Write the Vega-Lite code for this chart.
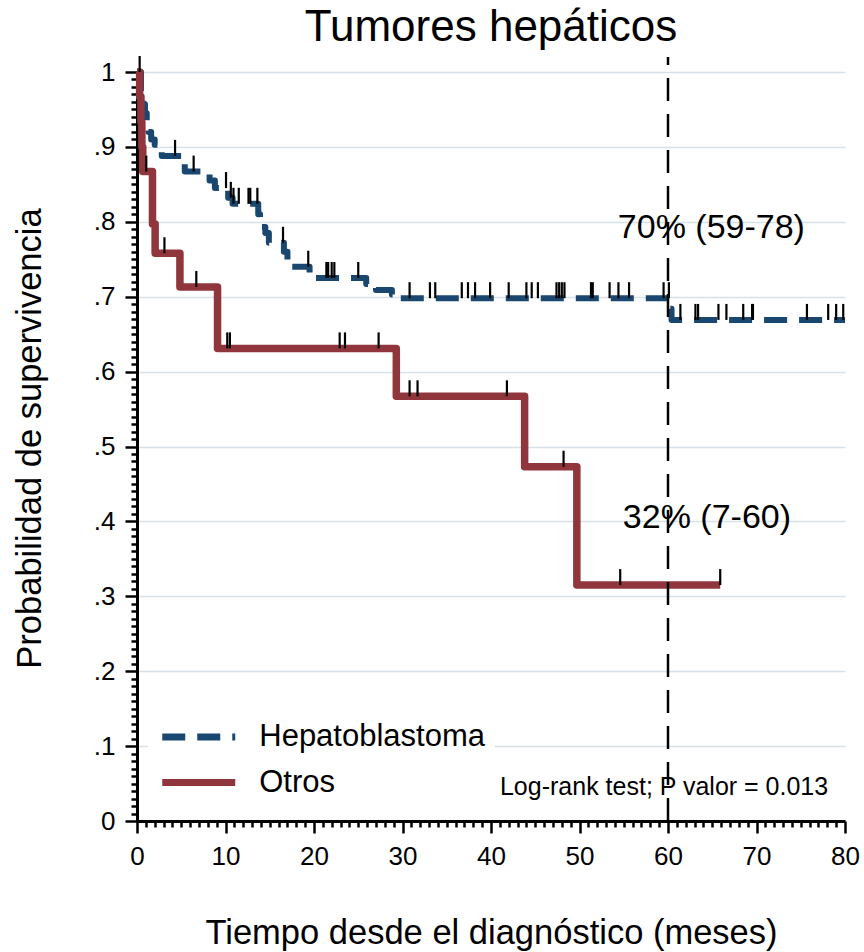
{
  "$schema": "https://vega.github.io/schema/vega-lite/v6.json",
  "width": 708,
  "height": 749,
  "autosize": {"type": "none"},
  "padding": {"left": 137, "top": 72, "right": 19, "bottom": 131},
  "background": "white",
  "title": {"text": "Tumores hepáticos", "fontSize": 44, "font": "Liberation Sans", "fontWeight": "normal", "anchor": "middle", "baseline": "alphabetic", "offset": 14, "dy": 43, "color": "black"},
  "config": {
    "view": {"stroke": null},
    "font": "Liberation Sans",
    "legend": {
      "orient": "none", "legendX": 11, "legendY": 633, "fillColor": "white", "padding": 10,
      "symbolType": "M-2,0H2", "symbolSize": 1332, "symbolStrokeWidth": 7, "symbolOffset": 18.75,
      "labelFontSize": 31, "labelFont": "Liberation Sans", "labelColor": "black", "labelOffset": 38.5, "labelLimit": 600,
      "rowPadding": 8.5, "zindex": 1, "title": null
    }
  },
  "datasets": {
    "curvas": [
      {"grupo": "Hepatoblastoma", "tiempo": 0, "supervivencia": 1.0},
      {"grupo": "Hepatoblastoma", "tiempo": 0.45, "supervivencia": 0.973},
      {"grupo": "Hepatoblastoma", "tiempo": 0.7, "supervivencia": 0.957},
      {"grupo": "Hepatoblastoma", "tiempo": 0.9, "supervivencia": 0.945},
      {"grupo": "Hepatoblastoma", "tiempo": 1.1, "supervivencia": 0.93},
      {"grupo": "Hepatoblastoma", "tiempo": 1.3, "supervivencia": 0.92},
      {"grupo": "Hepatoblastoma", "tiempo": 1.6, "supervivencia": 0.91},
      {"grupo": "Hepatoblastoma", "tiempo": 2.0, "supervivencia": 0.903},
      {"grupo": "Hepatoblastoma", "tiempo": 2.8, "supervivencia": 0.888},
      {"grupo": "Hepatoblastoma", "tiempo": 5.0, "supervivencia": 0.878},
      {"grupo": "Hepatoblastoma", "tiempo": 5.4, "supervivencia": 0.867},
      {"grupo": "Hepatoblastoma", "tiempo": 8.2, "supervivencia": 0.855},
      {"grupo": "Hepatoblastoma", "tiempo": 8.8, "supervivencia": 0.845},
      {"grupo": "Hepatoblastoma", "tiempo": 10.3, "supervivencia": 0.832},
      {"grupo": "Hepatoblastoma", "tiempo": 10.8, "supervivencia": 0.824},
      {"grupo": "Hepatoblastoma", "tiempo": 13.7, "supervivencia": 0.81},
      {"grupo": "Hepatoblastoma", "tiempo": 13.9, "supervivencia": 0.8},
      {"grupo": "Hepatoblastoma", "tiempo": 14.1, "supervivencia": 0.793},
      {"grupo": "Hepatoblastoma", "tiempo": 14.5, "supervivencia": 0.785},
      {"grupo": "Hepatoblastoma", "tiempo": 14.9, "supervivencia": 0.772},
      {"grupo": "Hepatoblastoma", "tiempo": 16.6, "supervivencia": 0.76},
      {"grupo": "Hepatoblastoma", "tiempo": 17.0, "supervivencia": 0.748},
      {"grupo": "Hepatoblastoma", "tiempo": 17.3, "supervivencia": 0.74},
      {"grupo": "Hepatoblastoma", "tiempo": 19.5, "supervivencia": 0.731},
      {"grupo": "Hepatoblastoma", "tiempo": 20.0, "supervivencia": 0.725},
      {"grupo": "Hepatoblastoma", "tiempo": 25.9, "supervivencia": 0.717},
      {"grupo": "Hepatoblastoma", "tiempo": 27.0, "supervivencia": 0.709},
      {"grupo": "Hepatoblastoma", "tiempo": 28.8, "supervivencia": 0.703},
      {"grupo": "Hepatoblastoma", "tiempo": 29.3, "supervivencia": 0.698},
      {"grupo": "Hepatoblastoma", "tiempo": 60.2, "supervivencia": 0.684},
      {"grupo": "Hepatoblastoma", "tiempo": 60.4, "supervivencia": 0.669},
      {"grupo": "Hepatoblastoma", "tiempo": 80, "supervivencia": 0.669},
      {"grupo": "Otros", "tiempo": 0, "supervivencia": 1.0},
      {"grupo": "Otros", "tiempo": 0.3, "supervivencia": 0.967},
      {"grupo": "Otros", "tiempo": 0.45, "supervivencia": 0.933},
      {"grupo": "Otros", "tiempo": 0.55, "supervivencia": 0.9},
      {"grupo": "Otros", "tiempo": 0.65, "supervivencia": 0.867},
      {"grupo": "Otros", "tiempo": 1.75, "supervivencia": 0.797},
      {"grupo": "Otros", "tiempo": 2.05, "supervivencia": 0.758},
      {"grupo": "Otros", "tiempo": 4.85, "supervivencia": 0.713},
      {"grupo": "Otros", "tiempo": 9.1, "supervivencia": 0.631},
      {"grupo": "Otros", "tiempo": 29.3, "supervivencia": 0.567},
      {"grupo": "Otros", "tiempo": 43.8, "supervivencia": 0.473},
      {"grupo": "Otros", "tiempo": 49.7, "supervivencia": 0.315},
      {"grupo": "Otros", "tiempo": 65.9, "supervivencia": 0.315}
    ],
    "censuras": [
      {"grupo": "Hepatoblastoma", "tiempo": 0.3, "supervivencia": 1.0},
      {"grupo": "Hepatoblastoma", "tiempo": 4.3, "supervivencia": 0.888},
      {"grupo": "Hepatoblastoma", "tiempo": 6.4, "supervivencia": 0.867},
      {"grupo": "Hepatoblastoma", "tiempo": 10.06, "supervivencia": 0.845},
      {"grupo": "Hepatoblastoma", "tiempo": 10.6, "supervivencia": 0.832},
      {"grupo": "Hepatoblastoma", "tiempo": 10.9, "supervivencia": 0.824},
      {"grupo": "Hepatoblastoma", "tiempo": 11.5, "supervivencia": 0.824},
      {"grupo": "Hepatoblastoma", "tiempo": 12.6, "supervivencia": 0.824},
      {"grupo": "Hepatoblastoma", "tiempo": 12.8, "supervivencia": 0.824},
      {"grupo": "Hepatoblastoma", "tiempo": 13.6, "supervivencia": 0.824},
      {"grupo": "Hepatoblastoma", "tiempo": 16.5, "supervivencia": 0.772},
      {"grupo": "Hepatoblastoma", "tiempo": 19.35, "supervivencia": 0.74},
      {"grupo": "Hepatoblastoma", "tiempo": 21.4, "supervivencia": 0.725},
      {"grupo": "Hepatoblastoma", "tiempo": 21.6, "supervivencia": 0.725},
      {"grupo": "Hepatoblastoma", "tiempo": 22.0, "supervivencia": 0.725},
      {"grupo": "Hepatoblastoma", "tiempo": 22.3, "supervivencia": 0.725},
      {"grupo": "Hepatoblastoma", "tiempo": 25.0, "supervivencia": 0.725},
      {"grupo": "Hepatoblastoma", "tiempo": 30.8, "supervivencia": 0.698},
      {"grupo": "Hepatoblastoma", "tiempo": 33.1, "supervivencia": 0.698},
      {"grupo": "Hepatoblastoma", "tiempo": 33.7, "supervivencia": 0.698},
      {"grupo": "Hepatoblastoma", "tiempo": 36.7, "supervivencia": 0.698},
      {"grupo": "Hepatoblastoma", "tiempo": 37.4, "supervivencia": 0.698},
      {"grupo": "Hepatoblastoma", "tiempo": 38.2, "supervivencia": 0.698},
      {"grupo": "Hepatoblastoma", "tiempo": 39.9, "supervivencia": 0.698},
      {"grupo": "Hepatoblastoma", "tiempo": 42.0, "supervivencia": 0.698},
      {"grupo": "Hepatoblastoma", "tiempo": 44.0, "supervivencia": 0.698},
      {"grupo": "Hepatoblastoma", "tiempo": 44.6, "supervivencia": 0.698},
      {"grupo": "Hepatoblastoma", "tiempo": 45.3, "supervivencia": 0.698},
      {"grupo": "Hepatoblastoma", "tiempo": 47.4, "supervivencia": 0.698},
      {"grupo": "Hepatoblastoma", "tiempo": 47.7, "supervivencia": 0.698},
      {"grupo": "Hepatoblastoma", "tiempo": 48.0, "supervivencia": 0.698},
      {"grupo": "Hepatoblastoma", "tiempo": 48.3, "supervivencia": 0.698},
      {"grupo": "Hepatoblastoma", "tiempo": 51.3, "supervivencia": 0.698},
      {"grupo": "Hepatoblastoma", "tiempo": 51.5, "supervivencia": 0.698},
      {"grupo": "Hepatoblastoma", "tiempo": 53.4, "supervivencia": 0.698},
      {"grupo": "Hepatoblastoma", "tiempo": 54.4, "supervivencia": 0.698},
      {"grupo": "Hepatoblastoma", "tiempo": 55.6, "supervivencia": 0.698},
      {"grupo": "Hepatoblastoma", "tiempo": 59.5, "supervivencia": 0.698},
      {"grupo": "Hepatoblastoma", "tiempo": 60.1, "supervivencia": 0.698},
      {"grupo": "Hepatoblastoma", "tiempo": 61.4, "supervivencia": 0.669},
      {"grupo": "Hepatoblastoma", "tiempo": 63.1, "supervivencia": 0.669},
      {"grupo": "Hepatoblastoma", "tiempo": 63.4, "supervivencia": 0.669},
      {"grupo": "Hepatoblastoma", "tiempo": 65.7, "supervivencia": 0.669},
      {"grupo": "Hepatoblastoma", "tiempo": 66.6, "supervivencia": 0.669},
      {"grupo": "Hepatoblastoma", "tiempo": 68.5, "supervivencia": 0.669},
      {"grupo": "Hepatoblastoma", "tiempo": 69.5, "supervivencia": 0.669},
      {"grupo": "Hepatoblastoma", "tiempo": 69.6, "supervivencia": 0.669},
      {"grupo": "Hepatoblastoma", "tiempo": 75.7, "supervivencia": 0.669},
      {"grupo": "Hepatoblastoma", "tiempo": 78.1, "supervivencia": 0.669},
      {"grupo": "Hepatoblastoma", "tiempo": 79.0, "supervivencia": 0.669},
      {"grupo": "Hepatoblastoma", "tiempo": 79.8, "supervivencia": 0.669},
      {"grupo": "Otros", "tiempo": 1.05, "supervivencia": 0.867},
      {"grupo": "Otros", "tiempo": 3.1, "supervivencia": 0.758},
      {"grupo": "Otros", "tiempo": 6.7, "supervivencia": 0.713},
      {"grupo": "Otros", "tiempo": 10.2, "supervivencia": 0.631},
      {"grupo": "Otros", "tiempo": 10.5, "supervivencia": 0.631},
      {"grupo": "Otros", "tiempo": 22.9, "supervivencia": 0.631},
      {"grupo": "Otros", "tiempo": 23.5, "supervivencia": 0.631},
      {"grupo": "Otros", "tiempo": 27.3, "supervivencia": 0.631},
      {"grupo": "Otros", "tiempo": 30.8, "supervivencia": 0.567},
      {"grupo": "Otros", "tiempo": 31.7, "supervivencia": 0.567},
      {"grupo": "Otros", "tiempo": 41.8, "supervivencia": 0.567},
      {"grupo": "Otros", "tiempo": 48.2, "supervivencia": 0.473},
      {"grupo": "Otros", "tiempo": 54.6, "supervivencia": 0.315},
      {"grupo": "Otros", "tiempo": 65.9, "supervivencia": 0.315}
    ],
    "referencia": [
      {"tiempo": 60, "supervivencia": 0, "supervivencia2": 1.02}
    ],
    "notas": [
      {"tiempo": 64.9, "supervivencia": 0.792, "texto": "70% (59-78)"},
      {"tiempo": 64.4, "supervivencia": 0.405, "texto": "32% (7-60)"}
    ],
    "prueba": [
      {"tiempo": 78.1, "supervivencia": 0.045, "texto": "Log-rank test; P valor = 0.013"}
    ]
  },
  "layer": [
    {
      "data": {"name": "curvas"},
      "transform": [{"filter": "datum.grupo == 'Hepatoblastoma'"}],
      "mark": {"type": "line", "interpolate": "step-after", "strokeWidth": 6, "strokeJoin": "round", "strokeCap": "butt"},
      "encoding": {
        "x": {
          "field": "tiempo", "type": "quantitative",
          "scale": {"domain": [0, 80], "nice": false, "zero": false},
          "axis": {
            "title": "Tiempo desde el diagnóstico (meses)",
            "values": [0,1,2,3,4,5,6,7,8,9,10,11,12,13,14,15,16,17,18,19,20,21,22,23,24,25,26,27,28,29,30,31,32,33,34,35,36,37,38,39,40,41,42,43,44,45,46,47,48,49,50,51,52,53,54,55,56,57,58,59,60,61,62,63,64,65,66,67,68,69,70,71,72,73,74,75,76,77,78,79,80],
            "tickCount": 200,
            "labelExpr": "datum.value % 10 == 0 ? '' + datum.value : ''",
            "tickSize": {"condition": {"test": "datum.value % 10 == 0", "value": 12}, "value": 6},
            "grid": false, "labelFlush": false, "labelOverlap": false,
            "labelFontSize": 26, "labelFont": "Liberation Sans", "labelColor": "black", "labelPadding": 10,
            "domainColor": "black", "domainWidth": 3, "tickColor": "black", "tickWidth": 2.5,
            "titleFontSize": 34.5, "titleFont": "Liberation Sans", "titleFontWeight": "normal", "titleColor": "black",
            "titleY": 122, "titleX": 354, "titleBaseline": "alphabetic", "titleAlign": "center"
          }
        },
        "y": {
          "field": "supervivencia", "type": "quantitative",
          "scale": {"domain": [0, 1], "nice": false},
          "axis": {
            "title": "Probabilidad de supervivencia",
            "values": [0,0.01,0.02,0.03,0.04,0.05,0.06,0.07,0.08,0.09,0.1,0.11,0.12,0.13,0.14,0.15,0.16,0.17,0.18,0.19,0.2,0.21,0.22,0.23,0.24,0.25,0.26,0.27,0.28,0.29,0.3,0.31,0.32,0.33,0.34,0.35,0.36,0.37,0.38,0.39,0.4,0.41,0.42,0.43,0.44,0.45,0.46,0.47,0.48,0.49,0.5,0.51,0.52,0.53,0.54,0.55,0.56,0.57,0.58,0.59,0.6,0.61,0.62,0.63,0.64,0.65,0.66,0.67,0.68,0.69,0.7,0.71,0.72,0.73,0.74,0.75,0.76,0.77,0.78,0.79,0.8,0.81,0.82,0.83,0.84,0.85,0.86,0.87,0.88,0.89,0.9,0.91,0.92,0.93,0.94,0.95,0.96,0.97,0.98,0.99,1],
            "tickCount": 300,
            "labelExpr": "round(datum.value*100) % 10 == 0 ? (datum.value == 0 ? '0' : datum.value > 0.999 ? '1' : '.' + round(datum.value*10)) : ''",
            "tickSize": {"condition": {"test": "round(datum.value*100) % 10 == 0", "value": 12}, "value": 6},
            "grid": true, "gridColor": "#d6e1e8", "gridWidth": 1.5,
            "gridOpacity": {"condition": {"test": "round(datum.value*100) % 10 == 0", "value": 1}, "value": 0},
            "labelOverlap": false, "labelFlush": false,
            "labelFontSize": 26, "labelFont": "Liberation Sans", "labelColor": "black", "labelPadding": 10,
            "domainColor": "black", "domainWidth": 3, "tickColor": "black", "tickWidth": 2.5,
            "titleFontSize": 34.5, "titleFont": "Liberation Sans", "titleFontWeight": "normal", "titleColor": "black",
            "titleX": -97, "titleY": 366, "titleBaseline": "alphabetic", "titleAlign": "center", "titleAngle": 270
          }
        },
        "color": {"field": "grupo", "type": "nominal", "scale": {"domain": ["Hepatoblastoma", "Otros"], "range": ["#1a476f", "#90353b"]}, "title": null,
          "legend": {"labelExpr": "datum.label == 'Hepatoblastoma' ? datum.label + '\u00a0\u00a0' : datum.label", "titleOrient": "right", "title": "\u00a0\u00a0"}},
        "strokeDash": {"field": "grupo", "type": "nominal", "scale": {"domain": ["Hepatoblastoma", "Otros"], "range": [[23, 12], [1, 0]]}, "title": null,
          "legend": {"labelExpr": "datum.label == 'Hepatoblastoma' ? datum.label + '\u00a0\u00a0' : datum.label", "titleOrient": "right", "title": "\u00a0\u00a0"}}
      }
    },
    {
      "data": {"name": "curvas"},
      "transform": [{"filter": "datum.grupo == 'Otros'"}],
      "mark": {"type": "line", "interpolate": "step-after", "strokeWidth": 7.5, "strokeJoin": "round", "strokeCap": "butt"},
      "encoding": {
        "x": {"field": "tiempo", "type": "quantitative"},
        "y": {"field": "supervivencia", "type": "quantitative"},
        "color": {"field": "grupo", "type": "nominal", "title": null},
        "strokeDash": {"field": "grupo", "type": "nominal", "title": null}
      }
    },
    {
      "data": {"name": "censuras"},
      "mark": {"type": "tick", "orient": "vertical", "size": 16, "thickness": 2.2, "yOffset": -8, "color": "black", "opacity": 1},
      "encoding": {
        "x": {"field": "tiempo", "type": "quantitative"},
        "y": {"field": "supervivencia", "type": "quantitative"}
      }
    },
    {
      "data": {"name": "referencia"},
      "mark": {"type": "rule", "color": "black", "strokeWidth": 2.5, "strokeDash": [23, 13]},
      "encoding": {
        "x": {"field": "tiempo", "type": "quantitative"},
        "y": {"field": "supervivencia", "type": "quantitative"},
        "y2": {"field": "supervivencia2"}
      }
    },
    {
      "data": {"name": "notas"},
      "mark": {"type": "text", "fontSize": 34, "font": "Liberation Sans", "color": "black", "align": "center", "baseline": "middle"},
      "encoding": {
        "x": {"field": "tiempo", "type": "quantitative"},
        "y": {"field": "supervivencia", "type": "quantitative"},
        "text": {"field": "texto"}
      }
    },
    {
      "data": {"name": "prueba"},
      "mark": {"type": "text", "fontSize": 25, "font": "Liberation Sans", "color": "black", "align": "right", "baseline": "middle"},
      "encoding": {
        "x": {"field": "tiempo", "type": "quantitative"},
        "y": {"field": "supervivencia", "type": "quantitative"},
        "text": {"field": "texto"}
      }
    }
  ]
}
